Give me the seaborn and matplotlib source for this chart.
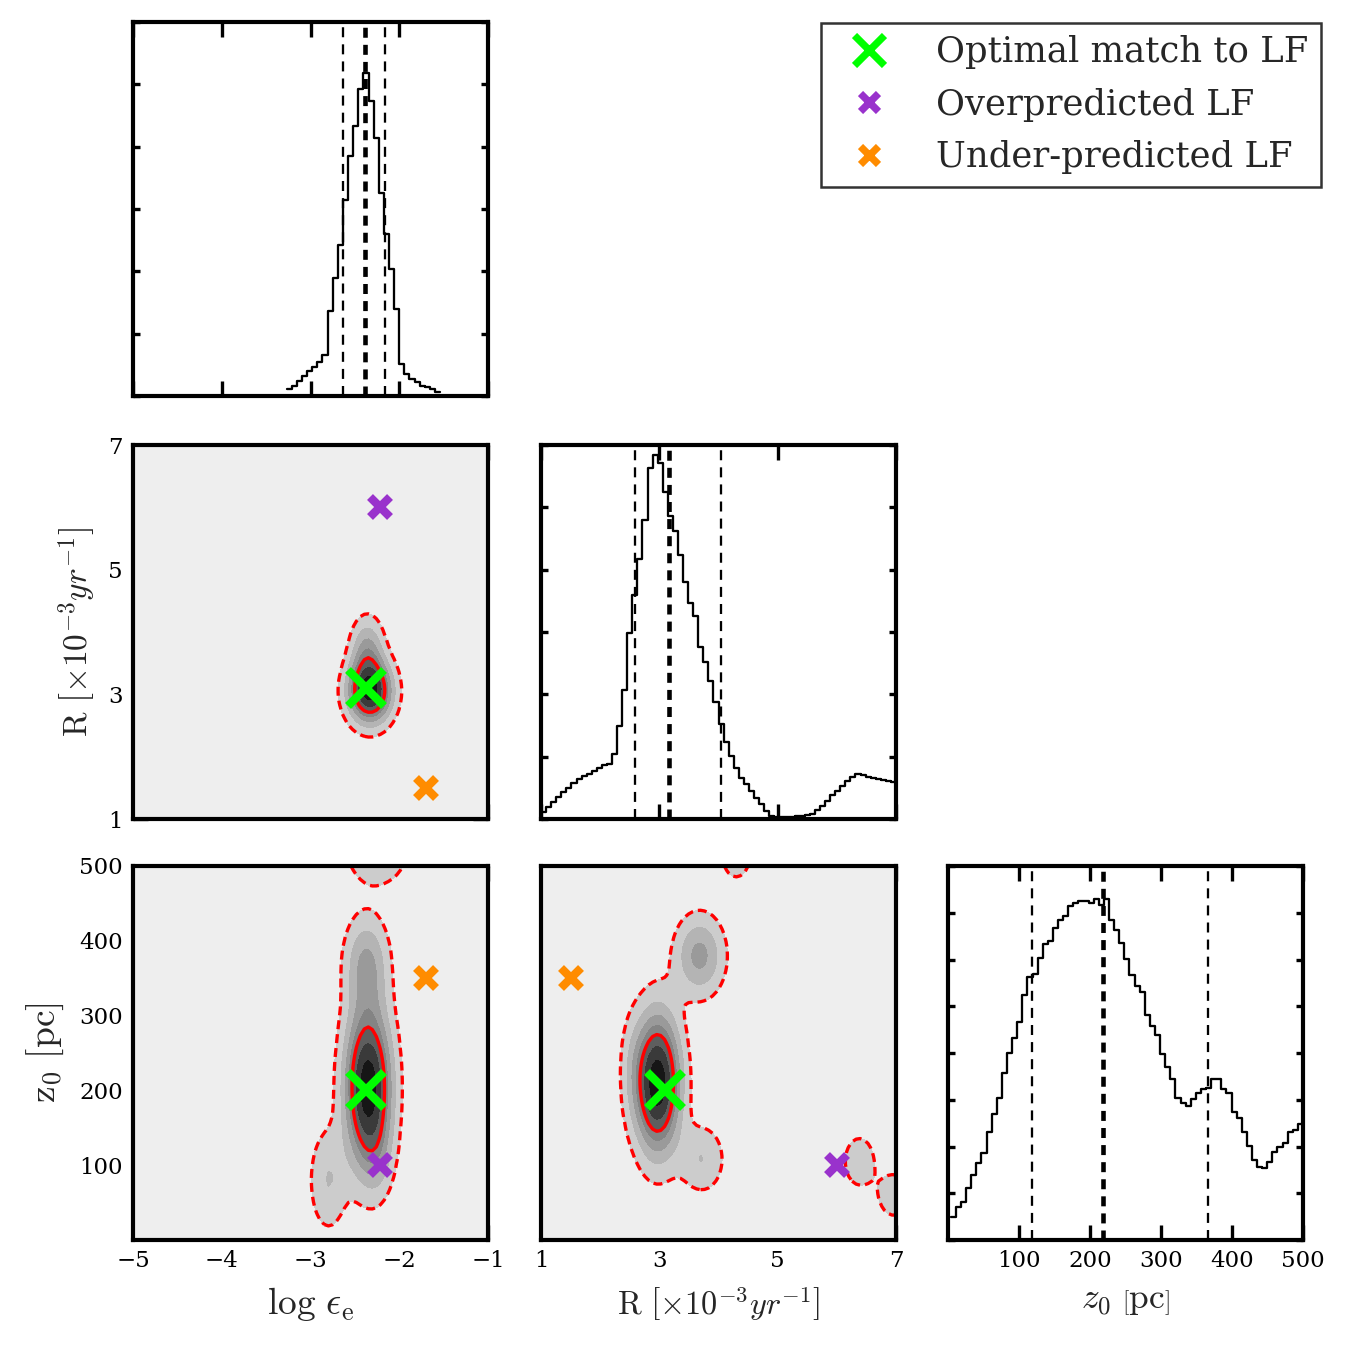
import numpy as np
import pandas as pd
import matplotlib
matplotlib.use('Agg')
import matplotlib.pyplot as plt
from matplotlib.lines import Line2D
import seaborn as sns

# ------------------------------------------------------------------
# Data
# ------------------------------------------------------------------

# best-fit / test points: log eps_e, R [1e-3/yr], z0 [pc]
optimal = [-2.37, 3.1, 200]
over = [-2.22, 6.0, 100]
under = [-1.7, 1.5, 350]

# 1D marginal: log eps_e (step heights, arbitrary units)
eps_lo, eps_hi = -3.268, -1.54
eps_counts = [21, 31, 46, 59, 74, 88, 101, 123, 256, 356, 453, 591, 721, 811,
              923, 971, 886, 776, 611, 486, 383, 261, 96, 66, 51, 41, 31, 26,
              21, 11]
eps_lines = [-2.638, -2.386, -2.161]
eps_top = 1125

# 1D marginal: R
r_lo, r_hi = 1.0, 7.0
r_counts = [22, 37, 51, 66, 81, 94, 107, 119, 129, 136, 144, 154, 162, 164,
            194, 279, 386, 556, 669, 779, 894, 1049, 1089, 1064, 979, 906,
            862, 789, 709, 646, 607, 514, 469, 414, 349, 284, 229, 189, 154,
            124, 104, 84, 64, 44, 24, 9, 6, 6, 7, 7, 8, 9, 11, 16, 26, 39,
            54, 72, 84, 99, 114, 126, 134, 131, 127, 124, 121, 117, 114, 112]
r_lines = [2.593, 3.158, 4.05]
r_top = 1119

# 1D marginal: z0
z_lo, z_hi = 4.0, 500.0
z_counts = [70, 98, 115, 155, 195, 230, 260, 325, 378, 425, 500, 562, 605,
            655, 735, 790, 798, 845, 887, 897, 935, 960, 972, 1002, 1012,
            1016, 1018, 1012, 1023, 1005, 1022, 960, 930, 890, 842, 795, 762,
            745, 675, 643, 615, 557, 518, 482, 425, 410, 402, 422, 440, 452,
            457, 483, 482, 452, 440, 383, 367, 325, 283, 240, 220, 215, 235,
            265, 280, 292, 325, 330, 348]
z_lines = [118, 218, 366]
z_top = 1122

# 2D posteriors described as a few density lobes (centre, width, weight)
er_cx = [-2.33, -2.36]
er_cy = [3.05, 3.7]
er_sx = [0.16, 0.12]
er_sy = [0.33, 0.35]
er_amp = [1.0, 0.35]

ez_cx = [-2.35, -2.37, -2.8, -2.25, -2.25]
ez_cy = [205, 370, 80, 522, 115]
ez_sx = [0.17, 0.16, 0.14, 0.22, 0.12]
ez_sy = [70, 42, 45, 30, 38]
ez_amp = [1.0, 0.32, 0.2, 0.25, 0.12]

rz_cx = [2.97, 3.68, 3.72, 6.38, 6.97, 4.3, 2.55]
rz_cy = [210, 380, 108, 105, 60, 520, 230]
rz_sx = [0.25, 0.27, 0.25, 0.2, 0.22, 0.2, 0.15]
rz_sy = [60, 35, 30, 26, 24, 28, 50]
rz_amp = [1.0, 0.36, 0.2, 0.16, 0.15, 0.17, 0.1]

# contour levels as fraction of the peak
levels = [0.08, 0.2, 0.32, 0.44, 0.56, 0.72, 0.88]
band_colors = ['#eeeeee', '#cccccc', '#b4b4b4', '#9a9a9a', '#848484',
               '#5e5e5e', '#3a3a3a', '#161616']

# ------------------------------------------------------------------
# Style
# ------------------------------------------------------------------
sns.set_theme(style='ticks')
plt.rcParams['font.family'] = ['DejaVu Serif']
plt.rcParams['mathtext.fontset'] = 'cm'
plt.rcParams['lines.scale_dashes'] = False
plt.rcParams['lines.dashed_pattern'] = [4.3, 2.4]

fig = plt.figure(figsize=(9, 9), dpi=150)
W = 1350.0
col_x = [133, 541, 948]
row_y = [22, 445, 866]
aw, ah = 355, 374


def make_ax(r, c):
    ax = fig.add_axes([col_x[c] / W, 1 - (row_y[r] + ah) / W, aw / W, ah / W])
    for s in ax.spines.values():
        s.set_linewidth(2)
        s.set_color('black')
    ax.tick_params(direction='in', top=True, right=True, length=7,
                   width=1.6, labelsize=11, pad=5, colors='black')
    return ax


def density(x, y, cx, cy, sx, sy, amp):
    X, Y = np.meshgrid(x, y)
    Z = np.zeros_like(X)
    for a, b, c, d, e in zip(cx, cy, sx, sy, amp):
        Z += e * np.exp(-0.5 * (((X - a) / c) ** 2 + ((Y - b) / d) ** 2))
    return X, Y, Z / Z.max()


def panel2d(ax, xr, yr, cx, cy, sx, sy, amp):
    x = np.linspace(xr[0], xr[1], 90)
    y = np.linspace(yr[0], yr[1], 90)
    X, Y, Z = density(x, y, cx, cy, sx, sy, amp)
    ax.set_facecolor(band_colors[0])
    ax.contourf(X, Y, Z, levels=[-1] + levels + [2], colors=band_colors)
    ax.contour(X, Y, Z, levels=[levels[0]], colors='red', linewidths=1.6,
               linestyles='dashed')
    ax.contour(X, Y, Z, levels=[levels[4]], colors='red', linewidths=1.6)
    ax.set_xlim(xr)
    ax.set_ylim(yr)


def panel1d(ax, lo, hi, counts, lines, xr, top, nyt):
    step = (hi - lo) / len(counts)
    df = pd.DataFrame({'x': lo + step * (np.arange(len(counts)) + 0.5),
                       'w': counts})
    sns.histplot(data=df, x='x', weights='w', bins=len(counts),
                 binrange=(lo, hi), element='step', fill=False,
                 color='black', linewidth=1.1, ax=ax)
    for i, v in enumerate(lines):
        ax.axvline(v, color='black', lw=2.2 if i == 1 else 1.1,
                   dashes=(4.8, 3.4))
    ax.set_xlim(xr)
    ax.set_ylim(0, top)
    ax.set_yticks(np.linspace(0, top, nyt + 1))
    ax.tick_params(axis='y', length=3.5, labelleft=False)
    ax.set_xlabel('')
    ax.set_ylabel('')


eps_r = (-5, -1)
r_r = (1, 7)
z_r = (0, 500)
eps_t = [-5, -4, -3, -2, -1]
r_t = [1, 3, 5, 7]
z_t = [100, 200, 300, 400, 500]
r_label = r'$\mathrm{R}\ \left[\times10^{-3}yr^{-1}\right]$'

# top-left: log eps marginal
ax00 = make_ax(0, 0)
panel1d(ax00, eps_lo, eps_hi, eps_counts, eps_lines, eps_r, eps_top, 6)
ax00.set_xticks(eps_t)
ax00.tick_params(axis='x', labelbottom=False)

# middle-left: eps vs R
ax10 = make_ax(1, 0)
panel2d(ax10, eps_r, r_r, er_cx, er_cy, er_sx, er_sy, er_amp)
ax10.set_xticks(eps_t)
ax10.set_yticks(r_t)
ax10.tick_params(axis='x', labelbottom=False)
ax10.set_ylabel(r_label, fontsize=16, labelpad=5)

# middle: R marginal
ax11 = make_ax(1, 1)
panel1d(ax11, r_lo, r_hi, r_counts, r_lines, r_r, r_top, 6)
ax11.set_xticks(r_t)
ax11.tick_params(axis='x', labelbottom=False)

# bottom-left: eps vs z0
ax20 = make_ax(2, 0)
panel2d(ax20, eps_r, z_r, ez_cx, ez_cy, ez_sx, ez_sy, ez_amp)
ax20.set_xticks(eps_t)
ax20.set_yticks(z_t)
ax20.set_xlabel(r'$\log\,\epsilon_{\mathrm{e}}$', fontsize=18, labelpad=6)
ax20.set_ylabel(r'$\mathrm{z_0\ [pc]}$', fontsize=18, labelpad=6)

# bottom-middle: R vs z0
ax21 = make_ax(2, 1)
panel2d(ax21, r_r, z_r, rz_cx, rz_cy, rz_sx, rz_sy, rz_amp)
ax21.set_xticks(r_t)
ax21.set_yticks(z_t)
ax21.tick_params(axis='y', labelleft=False)
ax21.set_xlabel(r_label, fontsize=15.5, labelpad=6)

# bottom-right: z0 marginal
ax22 = make_ax(2, 2)
panel1d(ax22, z_lo, z_hi, z_counts, z_lines, z_r, z_top, 8)
ax22.set_xticks(z_t)
ax22.set_xlabel(r'$z_0\ \left[\mathrm{pc}\right]$', fontsize=17, labelpad=5)

# markers on the 2D panels
pairs = [(ax10, 0, 1), (ax20, 0, 2), (ax21, 1, 2)]
for ax, i, j in pairs:
    ax.plot(optimal[i], optimal[j], 'x', color='#00ff00', ms=17, mew=4)
    ax.plot(over[i], over[j], 'x', color='#9932cc', ms=10, mew=4)
    ax.plot(under[i], under[j], 'x', color='#ff8c00', ms=10, mew=4)

handles = [
    Line2D([], [], ls='none', marker='x', color='#00ff00', ms=14, mew=3.5),
    Line2D([], [], ls='none', marker='x', color='#9932cc', ms=8.5, mew=3.5),
    Line2D([], [], ls='none', marker='x', color='#ff8c00', ms=8.5, mew=3.5),
]
names = ['Optimal match to LF', 'Overpredicted LF', 'Under-predicted LF']
leg = fig.legend(handles, names, loc='upper right',
                 bbox_to_anchor=(1321 / W, 1 - 23 / W), fontsize=17,
                 frameon=True, fancybox=False, borderpad=0.35,
                 handlelength=2.0, handletextpad=0.9, labelspacing=0.52,
                 borderaxespad=0)
leg.get_frame().set_edgecolor('black')
leg.get_frame().set_linewidth(1.2)

fig.savefig('out.png', dpi=150)
